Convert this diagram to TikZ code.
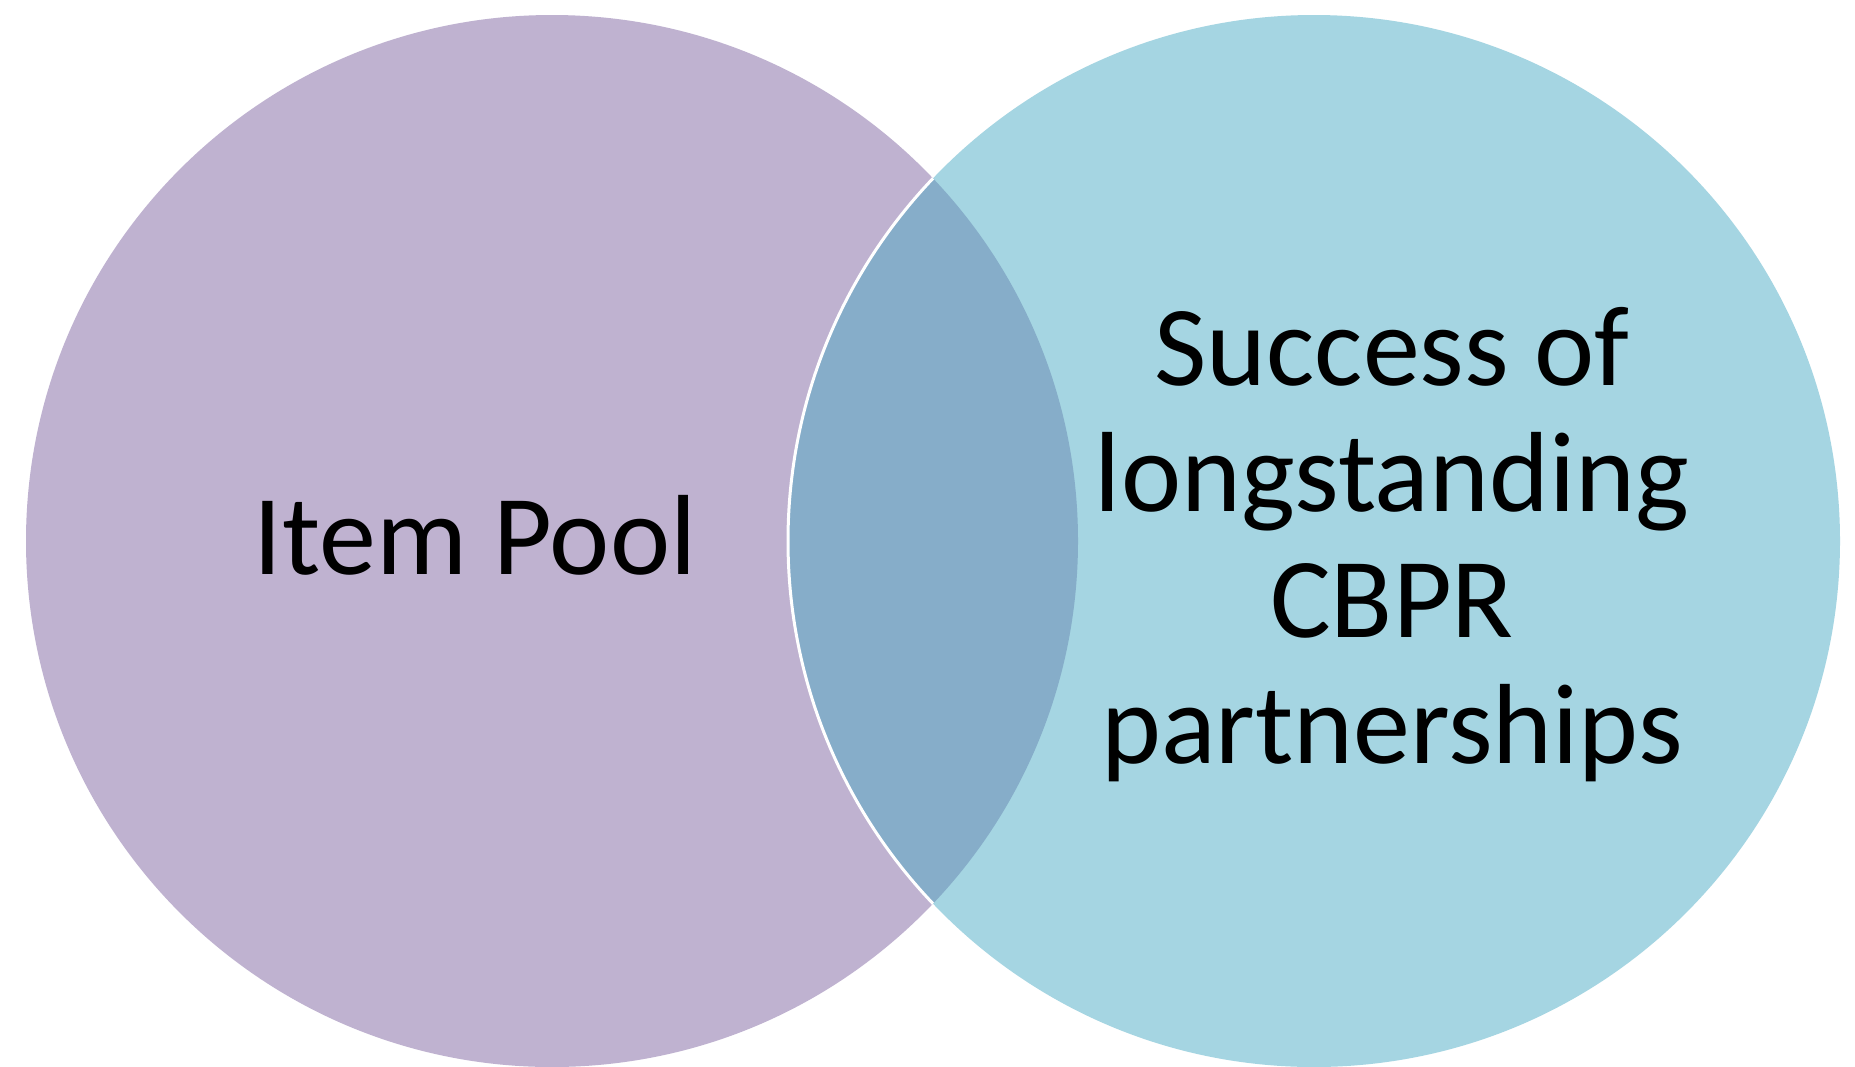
\documentclass[tikz,border=0pt]{standalone}
\usepackage{fontspec}
\setmainfont{Carlito}
\definecolor{lpurple}{HTML}{BFB2D0}
\definecolor{lblue}{HTML}{A5D5E2}
\definecolor{lover}{HTML}{86ADC9}
\begin{document}
\begin{tikzpicture}[x=1pt,y=-1pt,
  lbl/.style={anchor=base,inner sep=0pt,font=\fontsize{114}{126}\selectfont,text=black}]
\useasboundingbox (0,0) rectangle (1855,1066);
\fill[white] (0,0) rectangle (1855,1066);
\fill[lpurple] (552,541) circle[radius=526pt];
\fill[lblue] (1314,541) circle[radius=526pt];
\begin{scope}
  \clip (552,541) circle[radius=526pt];
  \fill[lover] (1314,541) circle[radius=526pt];
  \draw[white,line width=3pt] (1314,541) circle[radius=526pt];
\end{scope}
\node[lbl] (item) at (475,574) {Item Pool};
\node[lbl] (s1) at (1392,385) {Success of};
\node[lbl] (s2) at (1392,511) {longstanding};
\node[lbl] (s3) at (1392,637) {CBPR};
\node[lbl] (s4) at (1392,763) {partnerships};
\end{tikzpicture}
\end{document}
